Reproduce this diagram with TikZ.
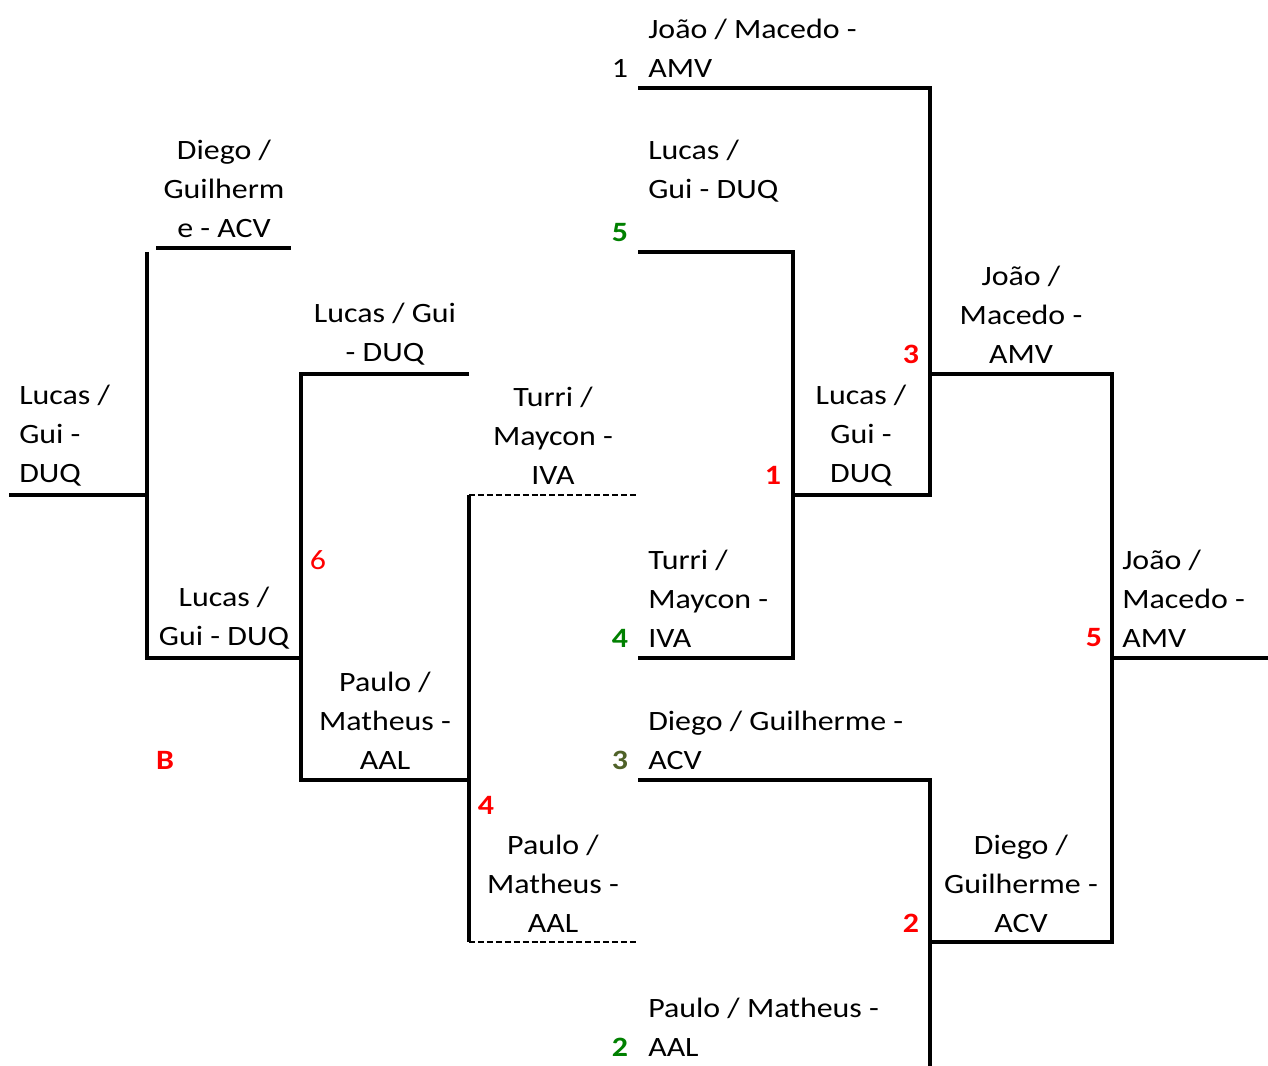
\documentclass[tikz,border=0pt]{standalone}
\usepackage{fontspec}
\setmainfont{Carlito}[FakeStretch=1.14]
\usetikzlibrary{positioning}
\definecolor{seedred}{RGB}{255,0,0}
\definecolor{seedgreen}{RGB}{0,128,0}
\definecolor{seedolive}{RGB}{79,98,40}

\begin{document}
\begin{tikzpicture}[x=0.75pt,y=-0.75pt,
    bar/.style={line width=3pt},
    tie/.style={line width=1.1pt,dash pattern=on 4.5pt off 2.2pt},
    team/.style={inner sep=0pt,align=center,font=\fontsize{21}{29.25}\selectfont},
    teaml/.style={team,align=left,anchor=west},
    seed/.style={inner sep=0pt,font=\fontsize{21}{29.25}\selectfont\bfseries}]
    \useasboundingbox (0,0) rectangle (1268,1066);

    % left side of the bracket
    \coordinate (win)  at (9,495);
    \coordinate (semA) at (147,495);
    \draw[bar] (win) -- (semA);
    \draw[bar] (147,252) |- (301,658);
    \draw[bar] (156,248) -- (291,248);
    \draw[bar] (469,374) -| (301,780) -- (469,780);
    \draw[bar] (469,495) -- (469,942);
    \draw[tie] (469,495) -- (638,495);
    \draw[tie] (469,942) -- (638,942);

    % right side of the bracket
    \draw[bar] (638,88) -| (930,495) -- (793,495);
    \draw[bar] (638,252) -| (793,658) -- (638,658);
    \draw[bar] (930,374) -| (1112,942) -- (930,942);
    \draw[bar] (1112,658) -- (1268,658);
    \draw[bar] (638,780) -| (930,1066);

    % teams, column by column
    \node (champ) [teaml] at (19,436) {Lucas /\\Gui -\\DUQ};
    \node (semT)  [team]  at (224,189) {Diego /\\Guilherm\\e - ACV};
    \node (semB)  [team]  at (224,618.5) {Lucas /\\Gui - DUQ};
    \node (quaT)  [team]  at (385,334.5) {Lucas / Gui\\- DUQ};
    \node (quaB)  [team]  at (385,721) {Paulo /\\Matheus -\\AAL};
    \node (repT)  [team]  at (553,436) {Turri /\\Maycon -\\IVA};
    \node (repB)  [team]  at (553,884) {Paulo /\\Matheus -\\AAL};
    \node (s1)    [teaml] at (648,48.5) {João / Macedo -\\AMV};
    \node (s5)    [teaml] at (648,171.5) {Lucas /\\Gui - DUQ};
    \node (s4)    [teaml] at (648,599) {Turri /\\Maycon -\\IVA};
    \node (s3)    [teaml] at (648,740.5) {Diego / Guilherme -\\ACV};
    \node (s2)    [teaml] at (648,1027.5) {Paulo / Matheus -\\AAL};
    \node (r1)    [team]  at (861,436) {Lucas /\\Gui -\\DUQ};
    \node (r2T)   [team]  at (1021,315) {João /\\Macedo -\\AMV};
    \node (r2B)   [team]  at (1021,884) {Diego /\\Guilherme -\\ACV};
    \node (fin)   [teaml] at (1122,599) {João /\\Macedo -\\AMV};

    % seeds and game numbers
    \node (n1)  [seed,font=\fontsize{21}{29.25}\selectfont] at (620,68) {1};
    \node (n5)  [seed,seedgreen] at (620,233) {5};
    \node (n4)  [seed,seedgreen] at (620,638) {4};
    \node (n3)  [seed,seedolive] at (620,760) {3};
    \node (n2)  [seed,seedgreen] at (620,1047) {2};
    \node (g1)  [seed,seedred] at (773,475) {1};
    \node (g3)  [seed,seedred] at (911,354) {3};
    \node (g5)  [seed,seedred] at (1094,638) {5};
    \node (g2)  [seed,seedred] at (911,923) {2};
    \node (g4)  [seed,seedred] at (486,805) {4};
    \node (g6)  [seed,seedred,font=\fontsize{21}{29.25}\selectfont] at (318,560) {6};
    \node (grp) [seed,seedred] at (165,760) {B};
\end{tikzpicture}
\end{document}
